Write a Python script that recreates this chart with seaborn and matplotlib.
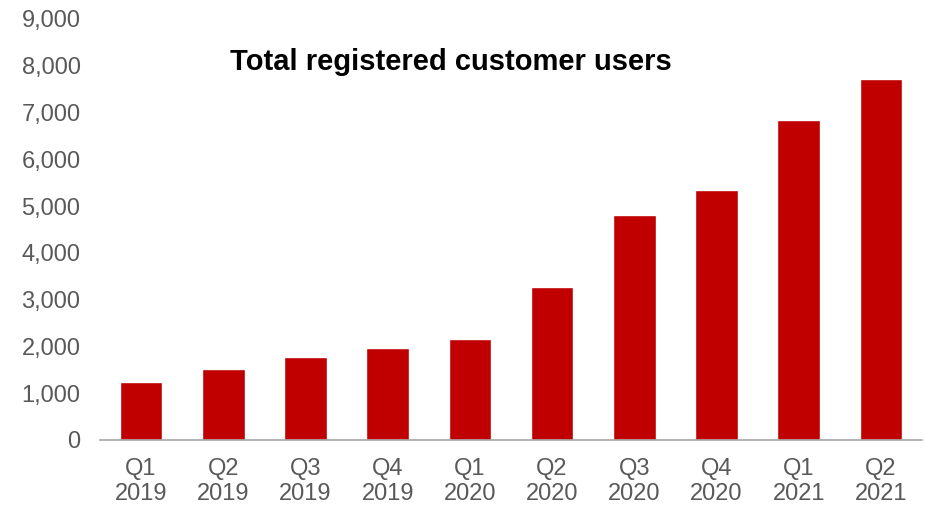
import matplotlib
matplotlib.use("Agg")
import matplotlib.pyplot as plt
import pandas as pd
import seaborn as sns
from matplotlib.ticker import FuncFormatter, MultipleLocator

# Data
quarters = ["Q1\n2019", "Q2\n2019", "Q3\n2019", "Q4\n2019", "Q1\n2020",
            "Q2\n2020", "Q3\n2020", "Q4\n2020", "Q1\n2021", "Q2\n2021"]
users = [1250, 1510, 1775, 1975, 2165, 3265, 4805, 5345, 6850, 7710]

BAR_RED = "#C00000"
GREY_TEXT = "#595959"

sns.set_style("white")
plt.rcParams["font.family"] = ["Liberation Sans", "DejaVu Sans"]

df = pd.DataFrame({"quarter": quarters, "users": users})

fig = plt.figure(figsize=(9.26, 5.07), dpi=100)
ax = fig.add_axes([100 / 926, 1 - 440 / 507, 822 / 926, 421 / 507])

sns.barplot(data=df, x="quarter", y="users", color=BAR_RED, saturation=1,
            width=0.52, ax=ax)

ax.set_xlim(-0.5, len(quarters) - 0.5)
ax.set_ylim(0, 9000)
ax.yaxis.set_major_locator(MultipleLocator(1000))
ax.yaxis.set_major_formatter(FuncFormatter(lambda v, _: f"{v:,.0f}"))
ax.set_xlabel("")
ax.set_ylabel("")

sns.despine(ax=ax, left=True, right=True, top=True)
ax.spines["bottom"].set_color("#a6a6a6")
ax.spines["bottom"].set_linewidth(1.2)

ax.tick_params(axis="y", length=0, pad=14, labelsize=17, labelcolor=GREY_TEXT)
ax.tick_params(axis="x", length=0, pad=13, labelsize=17, labelcolor=GREY_TEXT)
for lbl in ax.get_xticklabels():
    lbl.set_linespacing(1.15)

fig.text(451 / 926, 1 - 62 / 507, "Total registered customer users",
         ha="center", va="center", fontsize=21, fontweight="bold", color="black")

fig.savefig("out.png", dpi=100)
